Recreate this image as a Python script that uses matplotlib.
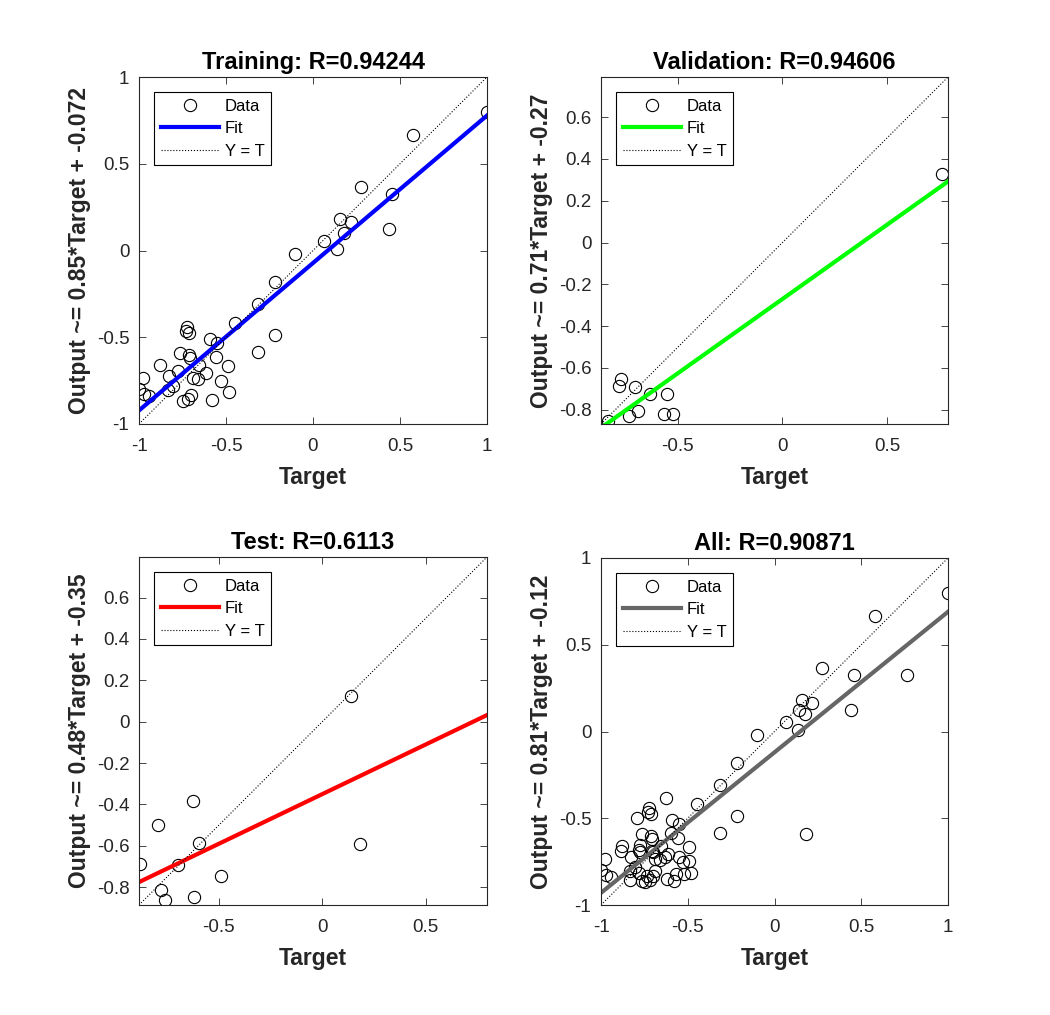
import matplotlib
matplotlib.use("Agg")
import matplotlib.pyplot as plt
from matplotlib.lines import Line2D
from matplotlib.ticker import FuncFormatter, MultipleLocator
import numpy as np

plt.rcParams["font.family"] = ["Liberation Sans", "DejaVu Sans"]
plt.rcParams["axes.unicode_minus"] = False

# targets / outputs
train_t = [1.0, 0.577, 0.276, 0.456, 0.439, 0.157, 0.216, 0.178, 0.065, 0.136,
           -0.103, -0.218, -0.314, -0.218, -0.316, -0.448, -0.726, -0.730, -0.711, -0.592,
           -0.553, -0.762, -0.711, -0.705, -0.557, -0.877, -0.653, -0.490, -0.778, -0.826,
           -0.615, -0.691, -0.659, -0.979, -0.529, -0.806, -0.835, -0.998, -0.970, -0.941,
           -0.481, -0.701, -0.720, -0.749, -0.580]
train_y = [0.80, 0.666, 0.368, 0.324, 0.124, 0.182, 0.166, 0.103, 0.057, 0.007,
           -0.022, -0.183, -0.308, -0.487, -0.587, -0.420, -0.439, -0.464, -0.477, -0.510,
           -0.535, -0.593, -0.602, -0.620, -0.612, -0.660, -0.660, -0.666, -0.695, -0.723,
           -0.708, -0.737, -0.742, -0.737, -0.752, -0.781, -0.804, -0.798, -0.829, -0.837,
           -0.817, -0.833, -0.856, -0.867, -0.862]

val_t = [0.762, -0.773, -0.780, -0.705, -0.633, -0.550, -0.689, -0.733, -0.566, -0.522, -0.835]
val_y = [0.326, -0.653, -0.685, -0.691, -0.723, -0.723, -0.805, -0.832, -0.819, -0.821, -0.856]

test_t = [0.140, 0.180, -0.625, -0.794, -0.598, -0.883, -0.698, -0.491, -0.781, -0.762, -0.622]
test_y = [0.122, -0.589, -0.381, -0.497, -0.586, -0.690, -0.695, -0.747, -0.814, -0.864, -0.848]

all_t = train_t + val_t + test_t
all_y = train_y + val_y + test_y

titles = ["Training: R=0.94244", "Validation: R=0.94606", "Test: R=0.6113", "All: R=0.90871"]
fit_slope = [0.85, 0.71, 0.48, 0.81]
fit_offset = [-0.072, -0.27, -0.35, -0.12]
fit_color = ["#0000ff", "#00ff00", "#ff0000", "#666666"]
lims = [(-1.0, 1.0), (-0.868, 0.792), (-0.886, 0.796), (-1.0, 1.0)]
ystep = [0.5, 0.2, 0.2, 0.5]

targets = [train_t, val_t, test_t, all_t]
outputs = [train_y, val_y, test_y, all_y]

W, H = 1050, 1015
boxes = [(139, 77, 487, 424), (601, 77, 948, 424), (139, 557, 487, 905), (601, 558, 948, 905)]

fig = plt.figure(figsize=(W / 100, H / 100), dpi=100)
fig.patch.set_facecolor("white")

fmt = FuncFormatter(lambda v, p: "0" if abs(v) < 1e-9 else f"{round(v, 6):g}")
dark = "#262626"

for i in range(4):
    l, t, r, b = boxes[i]
    ax = fig.add_axes([l / W, 1 - b / H, (r - l) / W, (b - t) / H])
    lo, hi = lims[i]
    ax.plot(targets[i], outputs[i], "o", ms=8.8, mfc="none", mec="black", mew=0.8)
    xs = np.array([lo, hi])
    ax.plot(xs, fit_slope[i] * xs + fit_offset[i], "-", color=fit_color[i], lw=3)
    ax.plot(xs, xs, ":", color="black", lw=0.8)
    ax.set_xlim(lo, hi)
    ax.set_ylim(lo, hi)
    ax.xaxis.set_major_locator(MultipleLocator(0.5))
    ax.yaxis.set_major_locator(MultipleLocator(ystep[i]))
    ax.xaxis.set_major_formatter(fmt)
    ax.yaxis.set_major_formatter(fmt)
    ax.tick_params(direction="in", top=True, right=True, length=5, width=0.6,
                   labelsize=13.5, colors=dark, pad=7)
    ax.tick_params(axis="x", pad=10)
    for s in ax.spines.values():
        s.set_color(dark)
        s.set_linewidth(0.8)
    ax.set_title(titles[i], fontsize=17, fontweight="bold", pad=6)
    ax.set_xlabel("Target", fontsize=16.5, fontweight="bold", color=dark, labelpad=8)
    ax.set_ylabel(f"Output ~= {fit_slope[i]:.2g}*Target + {fit_offset[i]:.2g}",
                  fontsize=16.5, fontweight="bold", color=dark, labelpad=4)

    handles = [Line2D([], [], ls="none", marker="o", ms=8.8, mfc="none", mec="black", mew=0.8),
               Line2D([], [], color=fit_color[i], lw=3),
               Line2D([], [], color="black", lw=0.8, ls=":")]
    leg = ax.legend(handles, ["Data", "Fit", "Y = T"], loc="upper left",
                    bbox_to_anchor=(15 / (r - l), 1 - 15 / (b - t)), borderaxespad=0,
                    fontsize=12, fancybox=False, framealpha=1, edgecolor="black",
                    handlelength=3.5, handletextpad=0.35, borderpad=0.4, labelspacing=0.45)
    leg.get_frame().set_linewidth(0.8)

fig.savefig("out.png", dpi=100)
